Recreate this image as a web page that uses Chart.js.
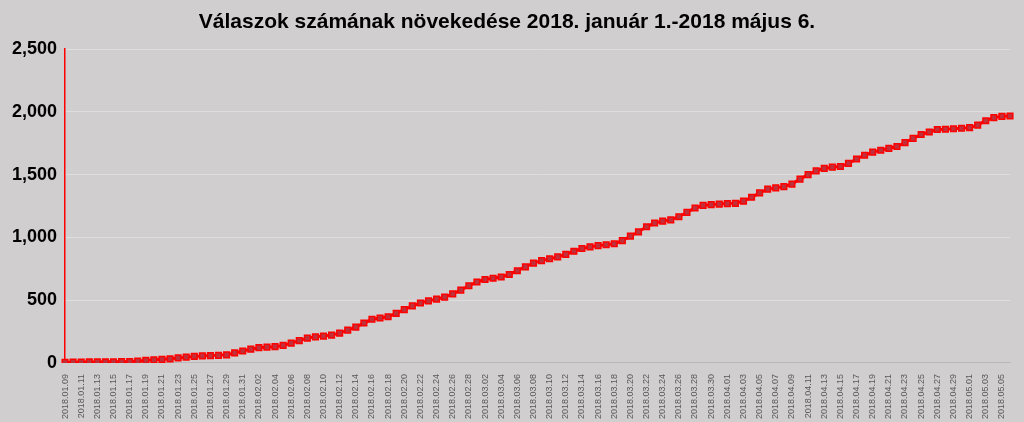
<!DOCTYPE html>
<html>
<head>
<meta charset="utf-8">
<script src="https://cdn.jsdelivr.net/npm/chart.js@4"></script>
<style>
  html, body { margin: 0; padding: 0; background: #d0cece; }
  #wrap { width: 1024px; height: 422px; }
</style>
</head>
<body>
<div id="wrap"><canvas id="c" width="1024" height="422"></canvas></div>
<script>
// daily dates 2018.01.09 - 2018.05.06
const months = [["01", 9, 31], ["02", 1, 28], ["03", 1, 31], ["04", 1, 30], ["05", 1, 6]]
const categories = []
months.forEach(([m, from, to]) => {
  for (let d = from; d <= to; d++) categories.push("2018." + m + "." + String(d).padStart(2, "0"))
})

const janValues = [5, 6, 7, 8, 8, 9, 9, 10, 11, 15, 20, 25, 29, 33, 40, 46, 52, 56, 59, 61, 65, 80, 95]
const febValues = [110, 122, 126, 130, 140, 158, 178, 198, 208, 214, 222, 238, 262, 285, 318, 348, 358, 368, 395, 425, 455, 478, 495, 508, 525, 550, 580, 615]
const marValues = [645, 665, 675, 685, 705, 735, 765, 795, 815, 830, 845, 865, 890, 912, 925, 935, 942, 950, 975, 1010, 1045, 1085, 1115, 1130, 1140, 1165, 1200, 1235, 1255, 1262, 1266]
const aprValues = [1270, 1272, 1290, 1320, 1355, 1385, 1395, 1405, 1425, 1465, 1500, 1530, 1550, 1560, 1565, 1590, 1625, 1655, 1680, 1695, 1710, 1725, 1755, 1790, 1820, 1840, 1860, 1862, 1866, 1870]
const mayValues = [1875, 1895, 1930, 1955, 1965, 1968]
const responses = [].concat(janValues, febValues, marValues, aprValues, mayValues)

const yTicks = [0, 500, 1000, 1500, 2000, 2500]

new Chart(document.getElementById("c"), {
  type: "line",
  data: {
    labels: categories,
    datasets: [{
      data: responses,
      borderColor: "#ff0000",
      borderWidth: 3,
      pointStyle: "rect",
      pointRadius: 4,
      pointBackgroundColor: "#c0303a",
      pointBorderColor: "#ff0000",
      pointBorderWidth: 1.5,
      tension: 0
    }]
  },
  options: {
    responsive: false,
    animation: false,
    layout: { padding: { left: 4, right: 14, top: 0, bottom: 0 } },
    plugins: {
      legend: { display: false },
      tooltip: { enabled: false },
      title: {
        display: true,
        text: "Válaszok számának növekedése 2018. január 1.-2018 május 6.",
        color: "#000",
        font: { family: "Liberation Sans", size: 21, weight: "bold" },
        padding: { top: 10, bottom: 14 }
      }
    },
    scales: {
      x: {
        offset: false,
        grid: { display: false },
        border: { color: "#b8b8b8" },
        ticks: {
          autoSkip: false,
          maxRotation: 90,
          minRotation: 90,
          color: "#595959",
          font: { family: "Liberation Sans", size: 9 },
          callback: function (v, i) { return i % 2 === 0 ? this.getLabelForValue(v) : "" }
        }
      },
      y: {
        min: 0,
        max: 2500,
        afterBuildTicks: (axis) => { axis.ticks = yTicks.map(v => ({ value: v })) },
        grid: { color: "#dedede", drawTicks: false },
        border: { color: "#ff0000", width: 1.5 },
        ticks: {
          color: "#000",
          padding: 8,
          font: { family: "Liberation Sans", size: 18, weight: "bold" }
        }
      }
    }
  }
})
</script>
</body>
</html>
